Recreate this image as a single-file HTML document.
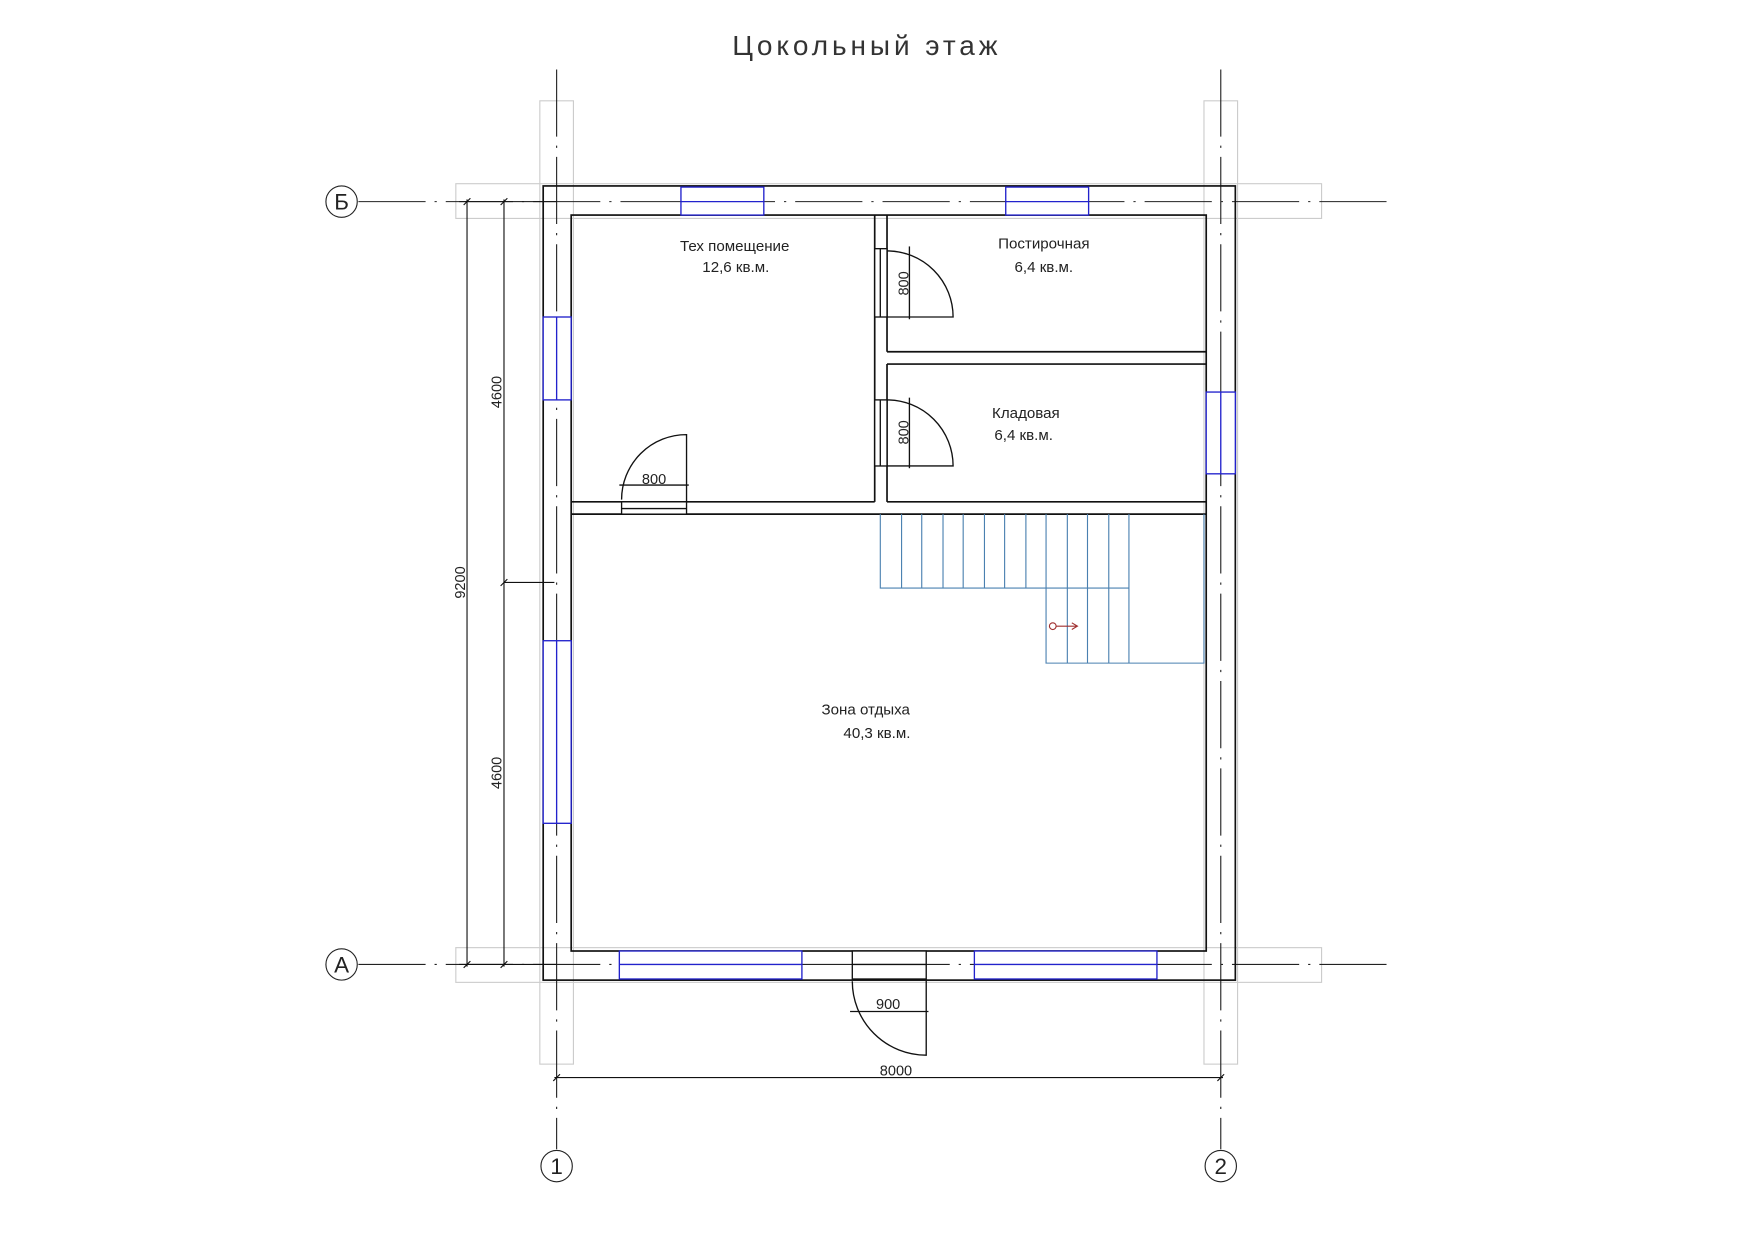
<!DOCTYPE html>
<html><head><meta charset="utf-8"><style>html,body{margin:0;padding:0;background:#fff}svg{display:block}</style></head>
<body>
<svg width="1755" height="1240" viewBox="0 0 1567 1107" preserveAspectRatio="none" xmlns="http://www.w3.org/2000/svg" font-family="Liberation Sans, DejaVu Sans, sans-serif">
<rect width="1567" height="1107" fill="#fff"/>
<text x="774" y="49" font-size="25" text-anchor="middle" fill="#333" letter-spacing="3.5" font-weight="300">Цокольный  этаж</text>
<g fill="none" stroke="#ccc" stroke-width="1">
<rect x="482" y="90" width="30" height="860"/>
<rect x="1075" y="90" width="30" height="860"/>
<rect x="407" y="164" width="773" height="31"/>
<rect x="407" y="846" width="773" height="31"/>
</g>
<g stroke="#222" stroke-width="1" fill="none">
<line x1="497" y1="62" x2="497" y2="1026" stroke-dasharray="60,8,2,8"/>
<line x1="1090" y1="62" x2="1090" y2="1026" stroke-dasharray="60,8,2,8"/>
<line x1="320" y1="180" x2="1240" y2="180" stroke-dasharray="60,8,2,8"/>
<line x1="320" y1="861" x2="1240" y2="861" stroke-dasharray="60,8,2,8"/>
<circle cx="497" cy="1041" r="14"/><circle cx="1090" cy="1041" r="14"/>
<circle cx="305" cy="180" r="14"/><circle cx="305" cy="861" r="14"/>
</g>
<g font-size="20" text-anchor="middle" fill="#222">
<text x="497" y="1048">1</text><text x="1090" y="1048">2</text>
<text x="305" y="187">Б</text><text x="305" y="868">А</text>
</g>
<g fill="none" stroke="#111" stroke-width="1.5">
<rect x="485" y="166" width="618" height="709"/>
<rect x="510" y="192" width="567" height="657"/>
<path d="M781 192V448M792 192V314M792 325V448M510 448H781M792 448H1077M510 459H1077M792 314H1077M792 325H1077"/>
</g>
<g fill="#fff" stroke="#2222cc" stroke-width="1.2">
<rect x="608" y="167" width="74" height="25"/><line x1="608" y1="180" x2="682" y2="180"/>
<rect x="898" y="167" width="74" height="25"/><line x1="898" y1="180" x2="972" y2="180"/>
<rect x="485" y="283" width="25" height="74"/><line x1="497" y1="283" x2="497" y2="357"/>
<rect x="485" y="572" width="25" height="163"/><line x1="497" y1="572" x2="497" y2="735"/>
<rect x="1077" y="350" width="26" height="73"/><line x1="1090" y1="350" x2="1090" y2="423"/>
<rect x="553" y="849" width="163" height="25"/><line x1="553" y1="861" x2="716" y2="861"/>
<rect x="870" y="849" width="163" height="25"/><line x1="870" y1="861" x2="1033" y2="861"/>
</g>
<g fill="#fff" stroke="#111" stroke-width="1.2">
<rect x="555" y="448" width="58" height="11"/><line x1="555" y1="454" x2="613" y2="454"/>
<path d="M613 448V388A58 58 0 0 0 555 446" fill="none"/>
<line x1="553" y1="433" x2="615" y2="433"/>
<rect x="781" y="222" width="11" height="61"/><line x1="786" y1="222" x2="786" y2="283"/>
<path d="M792 283H851A59 59 0 0 0 792 224" fill="none"/><line x1="812" y1="220" x2="812" y2="285"/>
<rect x="781" y="357" width="11" height="59"/><line x1="786" y1="357" x2="786" y2="416"/>
<path d="M792 416H851A59 59 0 0 0 792 357" fill="none"/><line x1="812" y1="355" x2="812" y2="418"/>
<rect x="761" y="849" width="66" height="25"/><line x1="761" y1="861" x2="827" y2="861"/>
<path d="M827 874V942A66 66 0 0 1 761 876" fill="none"/><line x1="759" y1="903" x2="829" y2="903"/>
</g>
<g font-size="13" fill="#222" text-anchor="middle">
<text x="584" y="432">800</text><text x="793" y="901">900</text>
<text transform="translate(811,253) rotate(-90)">800</text>
<text transform="translate(811,386) rotate(-90)">800</text>
</g>
<g stroke="#4a80b0" stroke-width="1" fill="none">
<path d="M786 459V525H934V592H1075V459M786 525H1008M934 525V592"/>
<path d="M805 459V525M823 459V525M842 459V525M860 459V525M879 459V525M897 459V525M916 459V525M934 459V525M953 459V592M971 459V592M990 459V592M1008 459V592"/>
</g>
<g stroke="#a03030" fill="none" stroke-width="1"><circle cx="940" cy="559" r="3"/><path d="M943 559H962M957 556L962 559L957 562"/></g>
<g stroke="#111" stroke-width="1" fill="none">
<line x1="417" y1="178" x2="417" y2="863"/><line x1="450" y1="178" x2="450" y2="863"/>
<line x1="410" y1="180" x2="497" y2="180"/><line x1="410" y1="861" x2="497" y2="861"/>
<line x1="450" y1="520" x2="495" y2="520"/>
<line x1="495" y1="962" x2="1092" y2="962"/>
<path d="M414 183L420 177M447 183L453 177M414 864L420 858M447 864L453 858M447 523L453 517M494 965L500 959M1087 965L1093 959"/>
</g>
<g font-size="13" fill="#222" text-anchor="middle">
<text transform="translate(415,520) rotate(-90)">9200</text>
<text transform="translate(448,350) rotate(-90)">4600</text>
<text transform="translate(448,690) rotate(-90)">4600</text>
<text x="800" y="960">8000</text>
</g>
<g font-size="13.5" fill="#222" text-anchor="middle">
<text x="656" y="224">Тех  помещение</text><text x="657" y="243">12,6  кв.м.</text>
<text x="932" y="222">Постирочная</text><text x="932" y="243">6,4  кв.м.</text>
<text x="916" y="373">Кладовая</text><text x="914" y="393">6,4  кв.м.</text>
<text x="773" y="638">Зона  отдыха</text><text x="783" y="659">40,3  кв.м.</text>
</g>
</svg>
</body></html>
